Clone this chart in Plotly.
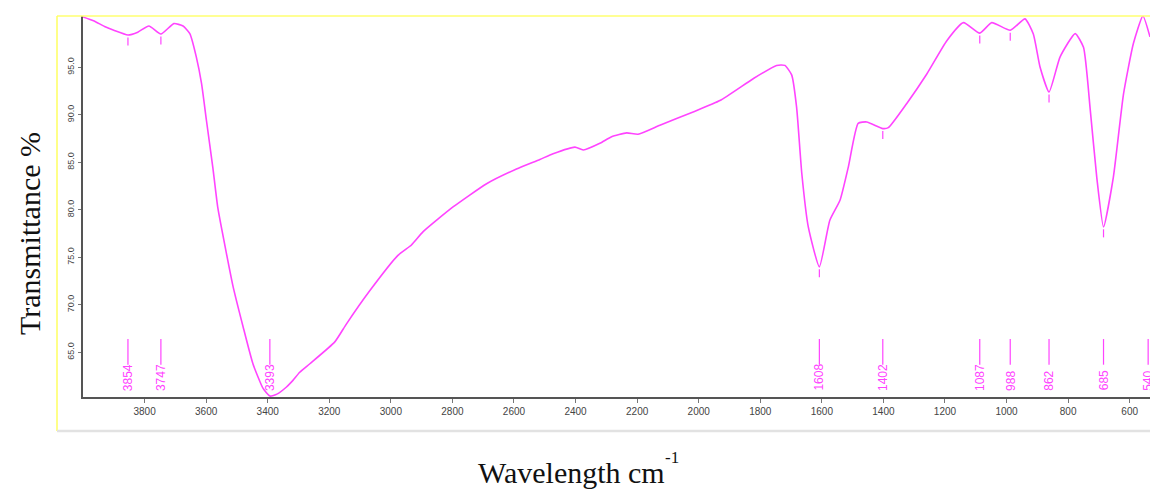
import numpy as np
import plotly.graph_objects as go

# FTIR spectrum (wavenumber cm^-1, transmittance %)
wavenumber = [4000, 3966, 3930, 3900, 3854, 3822, 3786, 3747, 3705, 3675, 3653, 3632, 3615,
              3599, 3578, 3562, 3534, 3513, 3480, 3448, 3415, 3393, 3370, 3339, 3318, 3296,
              3263, 3182, 3144, 3068, 2977, 2933, 2895, 2798, 2689, 2592, 2516, 2473, 2402,
              2375, 2321, 2283, 2234, 2197, 2126, 2018, 1931, 1823, 1747, 1720, 1698, 1682,
              1665, 1644, 1608, 1574, 1541, 1514, 1482, 1454, 1402, 1384, 1324, 1259, 1194,
              1140, 1087, 1048, 988, 940, 913, 891, 862, 826, 777, 750, 728, 707, 685, 653,
              620, 588, 557, 534]
transmittance = [100.3, 99.9, 99.3, 98.9, 98.4, 98.7, 99.35, 98.5, 99.6, 99.35, 98.55, 96.1, 93.3,
                 89.4, 84.4, 80.2, 75.4, 72.0, 67.7, 63.8, 61.2, 60.4, 60.6, 61.35, 62.05, 62.9,
                 63.8, 66.1, 68.0, 71.5, 75.2, 76.3, 77.7, 80.3, 82.75, 84.3, 85.3, 85.9, 86.6,
                 86.3, 87.0, 87.7, 88.1, 87.95, 88.9, 90.3, 91.5, 93.8, 95.2, 95.2, 94.2, 90.8,
                 83.8, 78.2, 74.0, 78.9, 81.0, 84.5, 89.1, 89.25, 88.55, 88.65, 91.2, 94.3, 97.8,
                 99.7, 98.6, 99.7, 98.9, 100.1, 98.5, 95.0, 92.4, 96.1, 98.55, 97.1, 90.5, 83.45, 78.2, 83.45,
                 92.2, 97.5, 100.4, 98.2]

peak_positions = [3854, 3747, 3393, 1608, 1402, 1087, 988, 862, 685, 540]
peak_labels = ["3854", "3747", "3393", "1608", "1402", "1087", "988", "862", "685", "540"]
curve_ticks = [3854, 3747, 1608, 1402, 1087, 988, 862, 685]

x_ticks = [3800, 3600, 3400, 3200, 3000, 2800, 2600, 2400, 2200, 2000, 1800, 1600, 1400, 1200, 1000, 800, 600]
y_ticks = [65, 70, 75, 80, 85, 90, 95]

MAG = "#ff44ff"

# plot area targets page pixels x 83..1150, y 16..397 (body margin removed below)
W, H = 1150, 490
PL, PT, PR, PB = 83, 16, 1150, 397
PW, PH = PR - PL, PB - PT


def px(xp):
    return (xp - PL) / PW


def py(yp):
    return (PB - yp) / PH


fig = go.Figure()
fig.add_trace(go.Scatter(x=wavenumber, y=transmittance, mode="lines",
                         line=dict(color=MAG, width=1.6, shape="spline", smoothing=0.5),
                         hoverinfo="skip", showlegend=False))

shapes = []
annotations = []
wn_rev = np.array(wavenumber[::-1])
t_rev = np.array(transmittance[::-1])
for p in curve_ticks:
    tmin = float(np.interp(p, wn_rev, t_rev))
    shapes.append(dict(type="line", xref="x", yref="y", x0=p, x1=p, y0=tmin - 0.25, y1=tmin - 1.1,
                       line=dict(color=MAG, width=1.2)))
for p, lab in zip(peak_positions, peak_labels):
    shapes.append(dict(type="line", xref="x", yref="y", x0=p, x1=p, y0=66.4, y1=63.7,
                       line=dict(color=MAG, width=1.2)))
    annotations.append(dict(x=p, y=60.75, xref="x", yref="y", text=lab, showarrow=False,
                            textangle=-90, xanchor="center", yanchor="bottom",
                            font=dict(family="Liberation Sans, Arial", size=12, color=MAG)))

# outer frame: yellow top/left, grey bottom
shapes.append(dict(type="line", xref="paper", yref="paper", x0=px(57), x1=1.0, y0=1.0, y1=1.0,
                   line=dict(color="#ffff70", width=1.5)))
shapes.append(dict(type="line", xref="paper", yref="paper", x0=px(57), x1=px(57), y0=1.0, y1=py(431),
                   line=dict(color="#ffff60", width=1.5)))
shapes.append(dict(type="line", xref="paper", yref="paper", x0=px(57), x1=1.0, y0=py(431), y1=py(431),
                   line=dict(color="#e2e2e2", width=2.5)))

annotations.append(dict(x=px(29), y=py(234), xref="paper", yref="paper",
                        text="Transmittance %", showarrow=False, textangle=-90,
                        xanchor="center", yanchor="middle",
                        font=dict(family="Liberation Serif, Times New Roman", size=30, color="#111")))
annotations.append(dict(x=px(476), y=py(472), xref="paper", yref="paper",
                        text="Wavelength cm", showarrow=False, xanchor="left", yanchor="middle",
                        font=dict(family="Liberation Serif, Times New Roman", size=30, color="#111")))
annotations.append(dict(x=px(663), y=py(457), xref="paper", yref="paper",
                        text="-1", showarrow=False, xanchor="left", yanchor="middle",
                        font=dict(family="Liberation Serif, Times New Roman", size=17, color="#111")))

fig.update_layout(
    width=W, height=H,
    margin=dict(l=PL, r=W - PR, t=PT, b=H - PB),
    paper_bgcolor="white", plot_bgcolor="white",
    shapes=shapes, annotations=annotations,
    xaxis=dict(range=[4000, 534], tickvals=x_ticks, ticktext=[str(v) for v in x_ticks],
               showgrid=False, zeroline=False, showline=True, linecolor="#555", linewidth=2,
               ticks="outside", ticklen=4, tickcolor="#777", tickwidth=1,
               tickfont=dict(family="Liberation Sans, Arial", size=10, color="#444")),
    yaxis=dict(range=[60.3, 100.4], tickvals=y_ticks, ticktext=[f"{v:.1f}" for v in y_ticks],
               tickangle=-90, showgrid=False, zeroline=False, showline=True, linecolor="#555",
               linewidth=2, ticks="outside", ticklen=3, tickcolor="#777", tickwidth=1,
               tickfont=dict(family="Liberation Sans, Arial", size=9, color="#444")),
)

fig.write_html("out.html", config={"displayModeBar": False},
               post_script="document.body.style.margin='0';document.body.style.overflow='hidden';")
